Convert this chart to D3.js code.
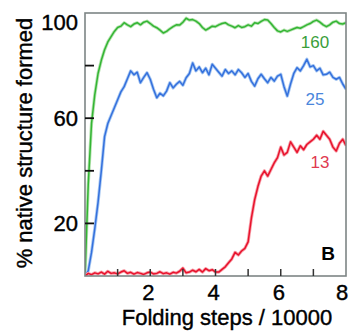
<!DOCTYPE html>
<html>
<head>
<meta charset="utf-8">
<script src="https://cdn.jsdelivr.net/npm/d3@7"></script>
<style>
  body { margin: 0; background: #fff; }
  text { font-family: "Liberation Sans", Arial, sans-serif; }
  .heavy { stroke: #000; stroke-width: 0.4px; }
</style>
</head>
<body>
<svg id="chart"></svg>
<script>
// sampling grid: folding steps / 10000, every 0.1
var steps = d3.range(0, 81).map(function(i) { return i / 10; });

// % native structure formed
var green160 = [0, 35, 58, 69, 77, 82, 86, 89, 91, 93,
	94.5, 95, 96.3, 95.5, 94.8, 95.8, 96.3, 95.5, 96.5, 96.9,
	96, 95, 94.4, 93.5, 92.4, 93, 94, 94.8, 95.5, 95.4,
	96.5, 98, 97.3, 97.5, 96.9, 96, 94.5, 93.5, 94.2, 95,
	94.8, 95.5, 96, 96.3, 95.5, 95, 94.4, 95.2, 94.5, 94.8,
	95.5, 95, 96.3, 96, 96.8, 97.5, 97.3, 96, 94.5, 93.2,
	92.8, 93.5, 93, 93.5, 94, 94.5, 94.2, 94.8, 95.5, 96,
	96.8, 97.3, 96.5, 95.5, 94.8, 95.5, 96.5, 96.9, 96, 95.8,
	96.3];

var blue25 = [0, 2, 9, 18, 28, 40, 53, 58, 61, 64,
	67, 70, 72, 75, 78, 76.5, 77.5, 73.5, 75.5, 77.3,
	74.8, 71, 67.8, 69.5, 68.5, 70.3, 73.5, 71.5, 72.9, 74,
	72.5, 75.4, 77, 81, 78, 79.5, 77.3, 79, 76.5, 80.5,
	79, 77.5, 76, 78.5, 77, 78, 76.5, 78.5, 77.3, 75.5,
	77, 74, 72.2, 75, 76.7, 75, 73.5, 75.5, 74.1, 76,
	76.7, 72, 68.4, 73, 77, 79.2, 78, 80, 82.4, 79.5,
	80, 78, 79, 76.5, 76.7, 77.5, 75.5, 74.8, 75.5, 73,
	71];

var red13 = [0, 1, 0.5, 1.2, 0.8, 1.5, 0.7, 1.8, 1, 1.2,
	0.8, 1.5, 2, 1, 1.4, 0.7, 1.3, 1, 0.6, 1.2,
	1.5, 0.8, 1, 1.6, 0.9, 1.2, 0.7, 1.4, 1.1, 1.8,
	3, 1.2, 1.5, 2.2, 1.6, 2.5, 1.5, 2.8, 2, 2.4,
	1.5, 1.5, 2.5, 3.5, 5, 6.5, 9, 8, 9.5, 10.5,
	13, 22, 29, 34, 38, 40, 38, 40.5, 43, 45,
	49, 46, 47, 51, 49, 47, 49.5, 48, 50, 51,
	52, 53.5, 52, 55, 53.5, 52, 49, 47.5, 50.5, 52,
	49.6];

var yTickLabels = [100, 60, 20];
var yTicks = [80, 60, 40, 20];
var xTickLabels = [2, 4, 6, 8];
var xTicks = [1, 2, 3, 4, 5, 6, 7];

var series = [
	{ name: "160", values: green160, color: "#33b533", halo: "#b5e3b0", label: "#3a9e3a", lx: 7.05, ly: 48 },
	{ name: "25", values: blue25, color: "#3470dd", halo: "#a9c9f2", label: "#4a86dc", lx: 7.05, ly: 105 },
	{ name: "13", values: red13, color: "#e8122c", halo: "#f7a0aa", label: "#e03a50", lx: 7.2, ly: 168 }
];

var width = 349, height = 331;
var plotLeft = 85, plotRight = 346, plotTop = 13, plotBottom = 276;

var svg = d3.select("#chart").attr("width", width).attr("height", height);

var x = d3.scaleLinear().domain([0, 8]).range([plotLeft, plotRight]);
var y = d3.scaleLinear().domain([0, 100]).range([plotBottom, plotTop]);

svg.append("clipPath").attr("id", "plot")
	.append("rect")
	.attr("x", plotLeft).attr("y", plotTop - 2)
	.attr("width", plotRight - plotLeft).attr("height", plotBottom - plotTop + 2);

var line = d3.line()
	.x(function(d, i) { return x(steps[i]); })
	.y(function(d) { return y(d); });

var lines = svg.append("g").attr("clip-path", "url(#plot)");

series.forEach(function(s) {
	lines.append("path")
		.attr("d", line(s.values))
		.attr("fill", "none")
		.attr("stroke", s.halo)
		.attr("stroke-width", 3.2)
		.attr("stroke-linejoin", "round");
	lines.append("path")
		.attr("d", line(s.values))
		.attr("fill", "none")
		.attr("stroke", s.color)
		.attr("stroke-width", 1.5)
		.attr("stroke-linejoin", "round");
});

// frame
svg.append("rect")
	.attr("x", plotLeft).attr("y", plotTop)
	.attr("width", plotRight - plotLeft).attr("height", plotBottom - plotTop)
	.attr("fill", "none")
	.attr("stroke", "#7d8585")
	.attr("stroke-width", 1.6);

// inward ticks
svg.append("g").selectAll("line")
	.data(yTicks)
	.enter().append("line")
	.attr("x1", plotLeft).attr("x2", plotLeft + 9)
	.attr("y1", function(d) { return y(d); })
	.attr("y2", function(d) { return y(d); })
	.attr("stroke", "#111")
	.attr("stroke-width", 1.8);

svg.append("g").selectAll("line")
	.data(xTicks)
	.enter().append("line")
	.attr("x1", function(d) { return x(d); })
	.attr("x2", function(d) { return x(d); })
	.attr("y1", plotBottom).attr("y2", plotBottom - 7)
	.attr("stroke", "#333")
	.attr("stroke-width", 1.5);

// tick labels
svg.append("g").selectAll("text")
	.data(yTickLabels)
	.enter().append("text")
	.attr("class", "heavy")
	.attr("x", 78)
	.attr("y", function(d) { return d == 100 ? 30 : y(d) + 8; })
	.attr("text-anchor", "end")
	.style("font-size", "22px")
	.text(function(d) { return d; });

svg.append("g").selectAll("text")
	.data(xTickLabels)
	.enter().append("text")
	.attr("class", "heavy")
	.attr("x", function(d) { return d == 8 ? x(d) - 4 : x(d) - 2; })
	.attr("y", 300)
	.attr("text-anchor", "middle")
	.style("font-size", "22px")
	.text(function(d) { return d; });

// axis titles
svg.append("text")
	.attr("class", "heavy")
	.attr("transform", "translate(32," + 143 + ") rotate(-90)")
	.attr("text-anchor", "middle")
	.style("font-size", "22px")
	.text("% native structure formed");

svg.append("text")
	.attr("class", "heavy")
	.attr("x", 227)
	.attr("y", 325)
	.attr("text-anchor", "middle")
	.style("font-size", "22px")
	.text("Folding steps / 10000");

// series labels
svg.append("g").selectAll("text")
	.data(series)
	.enter().append("text")
	.attr("x", function(d) { return x(d.lx); })
	.attr("y", function(d) { return d.ly; })
	.attr("text-anchor", "middle")
	.style("font-size", "17px")
	.attr("fill", function(d) { return d.label; })
	.text(function(d) { return d.name; });

svg.append("text")
	.attr("x", 328)
	.attr("y", 260)
	.attr("text-anchor", "middle")
	.style("font-size", "19px")
	.style("font-weight", "bold")
	.text("B");
</script>
</body>
</html>
